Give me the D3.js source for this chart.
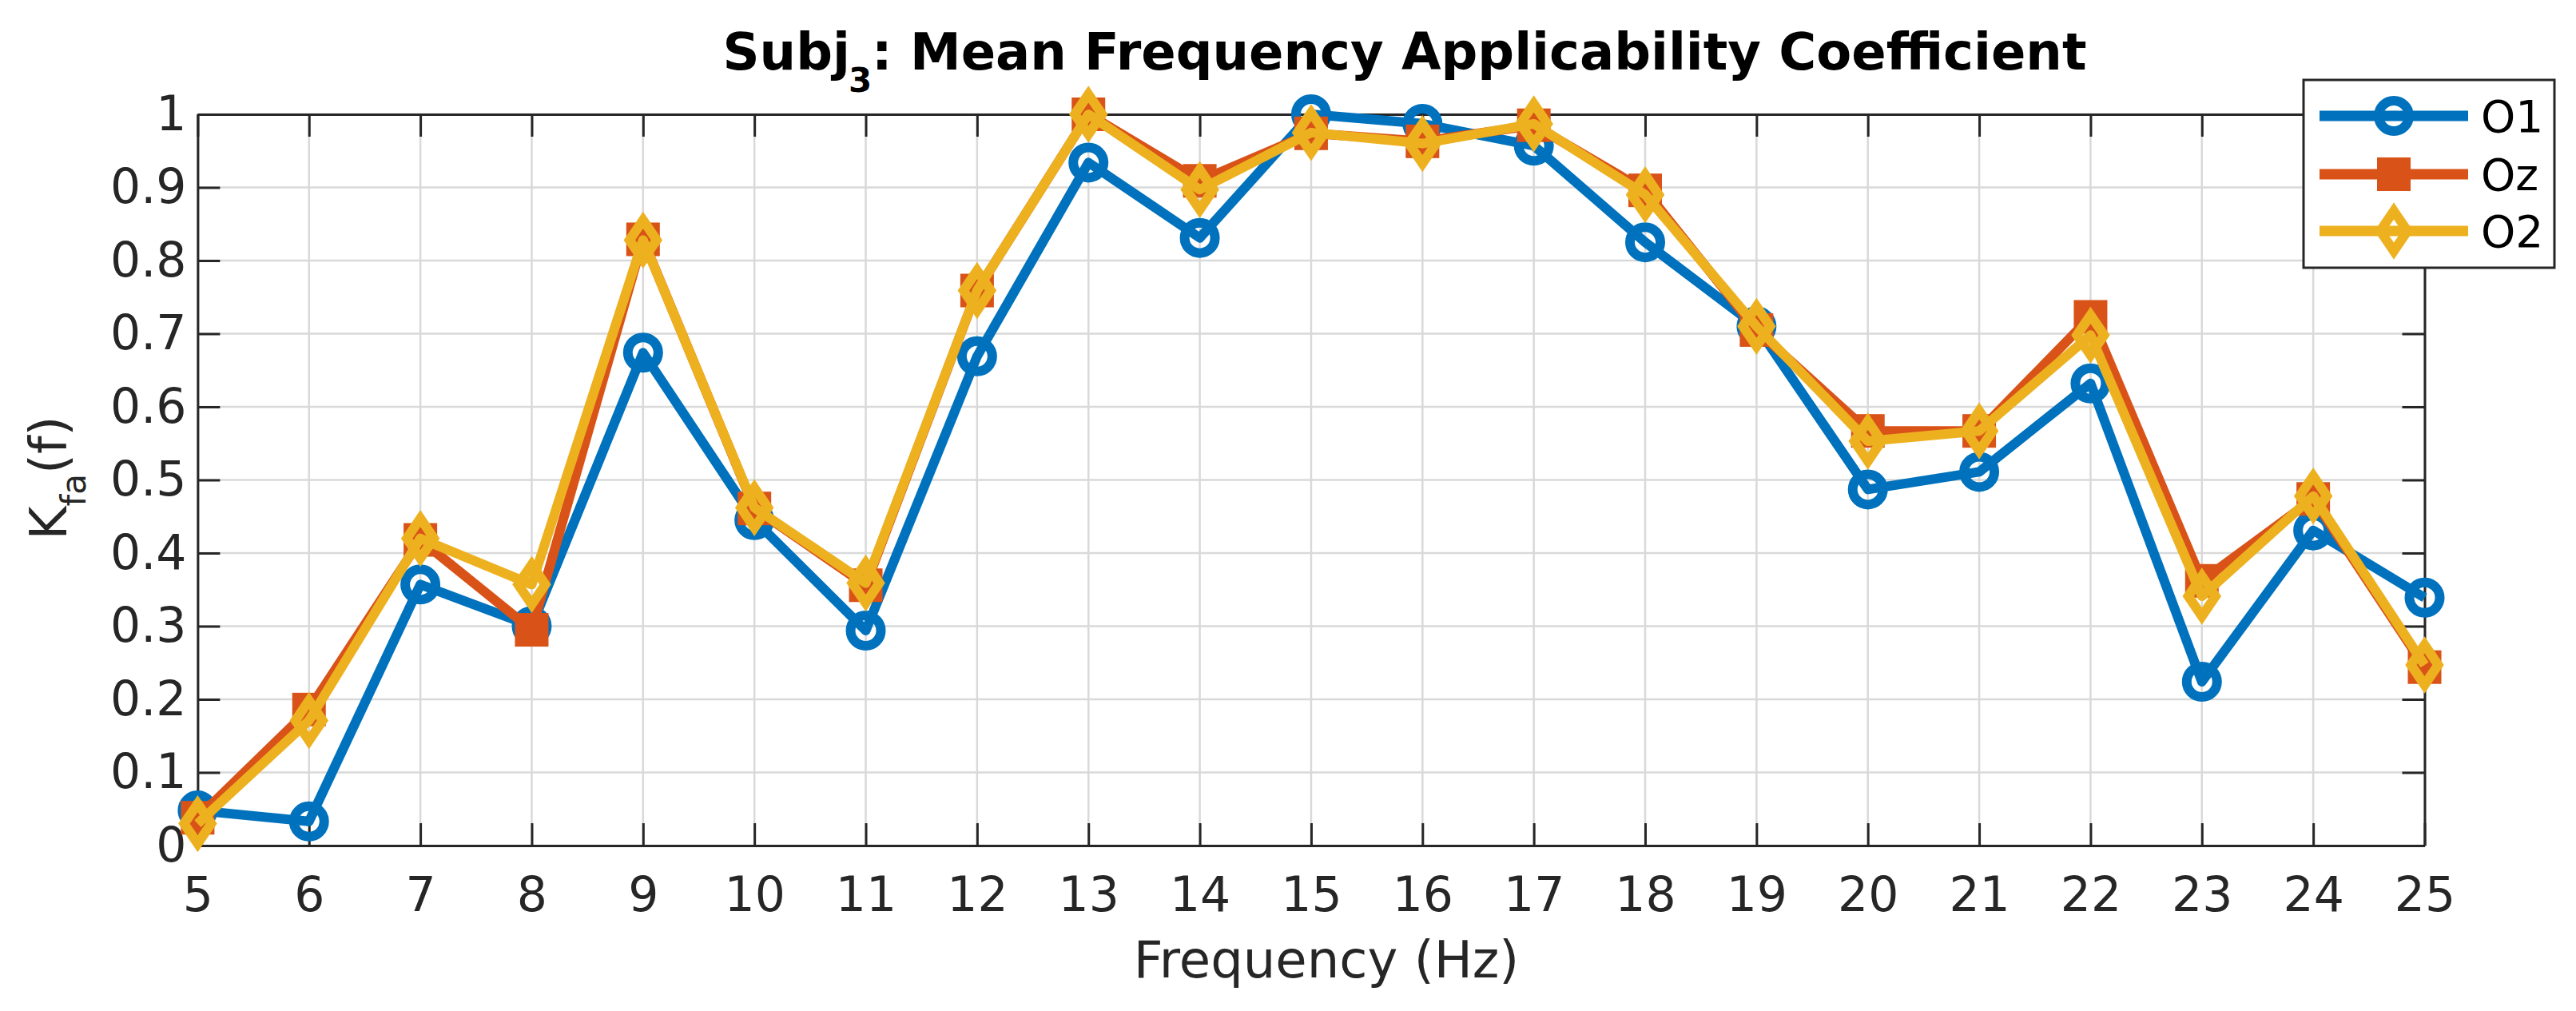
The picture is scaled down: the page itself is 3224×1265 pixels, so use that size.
<!DOCTYPE html>
<html>
<head>
<meta charset="utf-8">
<script src="https://cdn.jsdelivr.net/npm/d3@7"></script>
<style>
  body { margin: 0; background: #fff; }
  text { font-family: "DejaVu Sans", sans-serif; }
</style>
</head>
<body>
<div class="canvas"></div>
<script>
const freqs = [5, 6, 7, 8, 9, 10, 11, 12, 13, 14, 15, 16, 17, 18, 19, 20, 21, 22, 23, 24, 25];
const o1 = [0.048, 0.033, 0.357, 0.300, 0.674, 0.445, 0.294, 0.669, 0.934, 0.831, 1.000, 0.987, 0.957, 0.825, 0.710, 0.487, 0.511, 0.632, 0.224, 0.431, 0.339];
const oz = [0.038, 0.186, 0.418, 0.295, 0.829, 0.461, 0.356, 0.759, 1.000, 0.909, 0.974, 0.963, 0.985, 0.896, 0.705, 0.567, 0.567, 0.723, 0.362, 0.474, 0.244];
const o2 = [0.030, 0.171, 0.420, 0.357, 0.828, 0.462, 0.359, 0.759, 1.000, 0.897, 0.975, 0.960, 0.987, 0.890, 0.710, 0.553, 0.567, 0.698, 0.341, 0.478, 0.247];
const seriesNames = ['O1', 'Oz', 'O2'];
const yTicks = [0, 0.1, 0.2, 0.3, 0.4, 0.5, 0.6, 0.7, 0.8, 0.9, 1];

const [width, height] = [3224, 1265];
const axisColor = '#262626';
const colors = ['#0072BD', '#D95319', '#EDB120'];
const shapes = ['circle', 'square', 'diamond'];
const lw = 12;

const svg = d3.select('.canvas')
    .append('svg')
    .attr('width', width)
    .attr('height', height)
    .style('background', '#fff');

const x = d3.scaleLinear().domain([5, 25]).range([247.4, 3034.5]);
const y = d3.scaleLinear().domain([0, 1]).range([1058, 143]);

// grid
svg.append('g').selectAll('line.gx')
    .data(freqs)
    .enter().append('line')
    .attr('x1', d => x(d)).attr('x2', d => x(d))
    .attr('y1', y(0)).attr('y2', y(1))
    .attr('stroke', '#d9d9d9').attr('stroke-width', 2.5);
svg.append('g').selectAll('line.gy')
    .data(yTicks)
    .enter().append('line')
    .attr('x1', x(5)).attr('x2', x(25))
    .attr('y1', d => y(d)).attr('y2', d => y(d))
    .attr('stroke', '#d9d9d9').attr('stroke-width', 2.5);

function styleAxis(g) {
    g.attr('font-family', '"DejaVu Sans", sans-serif')
     .attr('font-size', 60);
    g.select('.domain').attr('stroke', axisColor).attr('stroke-width', 3);
    g.selectAll('.tick line').attr('stroke', axisColor).attr('stroke-width', 3);
    g.selectAll('.tick text').attr('fill', axisColor);
}

svg.append('g')
    .attr('transform', `translate(0,${y(0)})`)
    .call(d3.axisBottom(x).tickValues(freqs).tickSize(-28).tickSizeOuter(0).tickPadding(39))
    .call(styleAxis);
svg.append('g')
    .attr('transform', `translate(0,${y(1)})`)
    .call(d3.axisTop(x).tickValues(freqs).tickSize(-28).tickSizeOuter(0).tickFormat(''))
    .call(styleAxis);
svg.append('g')
    .attr('transform', `translate(${x(5)},0)`)
    .call(d3.axisLeft(y).tickValues(yTicks).tickSize(-28).tickSizeOuter(0).tickPadding(14)
        .tickFormat(d => d3.format('~g')(d)))
    .call(styleAxis);
svg.append('g')
    .attr('transform', `translate(${x(25)},0)`)
    .call(d3.axisRight(y).tickValues(yTicks).tickSize(-28).tickSizeOuter(0).tickFormat(''))
    .call(styleAxis);

function marker(g, shape, color) {
    if (shape === 'circle') {
        g.append('circle').attr('r', 19)
            .attr('fill', 'none').attr('stroke', color).attr('stroke-width', lw);
    } else if (shape === 'square') {
        g.append('rect').attr('x', -15).attr('y', -15).attr('width', 30).attr('height', 30)
            .attr('fill', color).attr('stroke', color).attr('stroke-width', lw);
    } else {
        g.append('path').attr('d', 'M0,-25L17,0L0,25L-17,0Z')
            .attr('fill', 'none').attr('stroke', color).attr('stroke-width', lw);
    }
}

const lineGenerator = d3.line()
    .x(d => x(d.f))
    .y(d => y(d.v));

[o1, oz, o2].forEach((vals, i) => {
    const pts = freqs.map((f, j) => ({ f: f, v: vals[j] }));
    svg.append('path')
        .datum(pts)
        .attr('d', lineGenerator)
        .attr('fill', 'none')
        .attr('stroke', colors[i])
        .attr('stroke-width', lw)
        .attr('stroke-linejoin', 'round');
    svg.append('g').selectAll('g')
        .data(pts)
        .enter().append('g')
        .attr('transform', d => `translate(${x(d.f)},${y(d.v)})`)
        .each(function () { marker(d3.select(this), shapes[i], colors[i]); });
});

// title
const title = svg.append('text')
    .attr('x', 1758).attr('y', 87)
    .attr('text-anchor', 'middle')
    .attr('font-size', 64).attr('font-weight', 'bold')
    .attr('fill', '#000');
title.append('tspan').text('Subj');
title.append('tspan').attr('font-size', 42).attr('dy', 28).attr('dx', -2).text('3');
title.append('tspan').attr('dy', -28).text(': Mean Frequency Applicability Coefficient');

// axis labels
svg.append('text')
    .attr('x', 1660).attr('y', 1223)
    .attr('text-anchor', 'middle')
    .attr('font-size', 64)
    .attr('fill', axisColor)
    .text('Frequency (Hz)');

const ylab = svg.append('text')
    .attr('transform', 'translate(83,598) rotate(-90)')
    .attr('text-anchor', 'middle')
    .attr('font-size', 64)
    .attr('fill', axisColor);
ylab.append('tspan').text('K');
ylab.append('tspan').attr('font-size', 42).attr('dy', 24).text('fa');
ylab.append('tspan').attr('dy', -24).text('(f)');

// legend
const legend = svg.append('g');
legend.append('rect')
    .attr('x', 2883).attr('y', 100).attr('width', 314).attr('height', 235)
    .attr('fill', '#fff').attr('stroke', axisColor).attr('stroke-width', 3);
const rowY = [145, 218, 289];
seriesNames.forEach((name, i) => {
    legend.append('line')
        .attr('x1', 2903).attr('x2', 3089)
        .attr('y1', rowY[i]).attr('y2', rowY[i])
        .attr('stroke', colors[i]).attr('stroke-width', 13);
    const m = legend.append('g').attr('transform', `translate(2996,${rowY[i]})`);
    marker(m, shapes[i], colors[i]);
    legend.append('text')
        .attr('x', 3105).attr('y', rowY[i])
        .attr('dy', '0.36em')
        .attr('font-size', 55)
        .attr('fill', '#000')
        .text(name);
});
</script>
</body>
</html>
